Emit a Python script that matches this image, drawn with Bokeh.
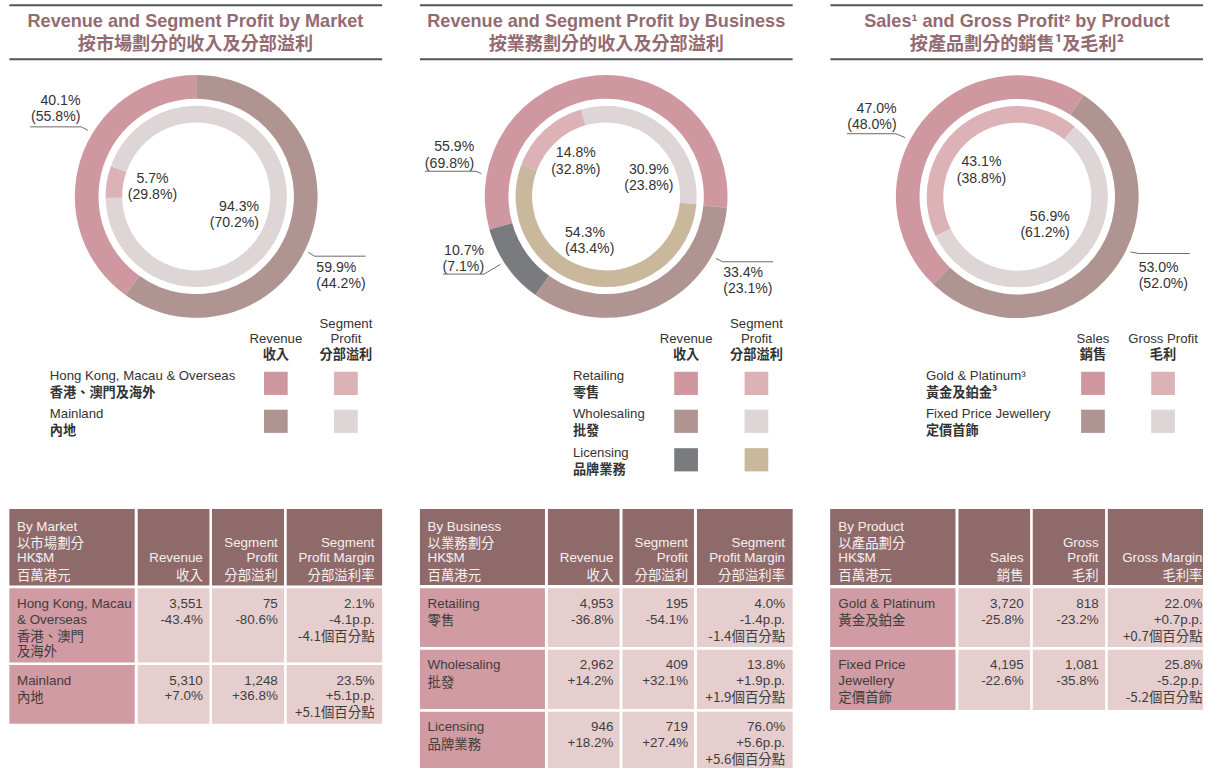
import math
from bokeh.plotting import figure
from bokeh.models import Range1d
from bokeh.core.properties import value
from bokeh.embed import file_html
from bokeh.resources import INLINE

# ---------------- DATA ----------------
market_en = ["Hong Kong, Macau & Overseas", "Mainland"]
market_zh = ["香港、澳門及海外", "內地"]
market_rev_share = [40.1, 59.9]
market_rev_share_prev = [55.8, 44.2]
market_prof_share = [5.7, 94.3]
market_prof_share_prev = [29.8, 70.2]
market_table_labels = [["Hong Kong, Macau", "& Overseas", "香港、澳門", "及海外"], ["Mainland", "內地"]]
market_revenue = [3551, 5310]
market_revenue_chg = [-43.4, 7.0]
market_profit = [75, 1248]
market_profit_chg = [-80.6, 36.8]
market_margin = [2.1, 23.5]
market_margin_chg = [-4.1, 5.1]

business_en = ["Retailing", "Wholesaling", "Licensing"]
business_zh = ["零售", "批發", "品牌業務"]
business_rev_share = [55.9, 33.4, 10.7]
business_rev_share_prev = [69.8, 23.1, 7.1]
business_prof_share = [14.8, 30.9, 54.3]
business_prof_share_prev = [32.8, 23.8, 43.4]
business_table_labels = [["Retailing", "零售"], ["Wholesaling", "批發"], ["Licensing", "品牌業務"]]
business_revenue = [4953, 2962, 946]
business_revenue_chg = [-36.8, 14.2, 18.2]
business_profit = [195, 409, 719]
business_profit_chg = [-54.1, 32.1, 27.4]
business_margin = [4.0, 13.8, 76.0]
business_margin_chg = [-1.4, 1.9, 5.6]

product_en = ["Gold & Platinum³", "Fixed Price Jewellery"]
product_zh = ["黃金及鉑金³", "定價首飾"]
product_sales_share = [47.0, 53.0]
product_sales_share_prev = [48.0, 52.0]
product_gp_share = [43.1, 56.9]
product_gp_share_prev = [38.8, 61.2]
product_table_labels = [["Gold & Platinum", "黃金及鉑金"], ["Fixed Price", "Jewellery", "定價首飾"]]
product_sales = [3720, 4195]
product_sales_chg = [-25.8, -22.6]
product_gp = [818, 1081]
product_gp_chg = [-23.2, -35.8]
product_gm = [22.0, 25.8]
product_gm_chg = [0.7, -5.2]

titles_en = ["Revenue and Segment Profit by Market", "Revenue and Segment Profit by Business",
             "Sales¹ and Gross Profit² by Product"]
titles_zh = ["按市場劃分的收入及分部溢利", "按業務劃分的收入及分部溢利", "按產品劃分的銷售¹及毛利²"]

# ---------------- STYLE ----------------
PINK = "#cf98a1"
MAUVE = "#b09492"
LPINK = "#dcb2b7"
LGRAY = "#ddd5d6"
DGRAY = "#7a7b7f"
TAN = "#c9b89c"
HEAD = "#8f6a6a"
COL1 = "#d09ba3"
CELL = "#e6cecf"
TITLE_C = "#946b70"
TXT = "#333333"

W_REF, H_REF = 1219, 784
S = 0.985

p = figure(width=1203, height=768, x_range=Range1d(0, W_REF), y_range=Range1d(0, H_REF),
           output_backend="svg", toolbar_location=None, min_border=0,
           x_axis_type=None, y_axis_type=None)
p.grid.visible = False
p.outline_line_color = None
p.background_fill_color = "white"
p.border_fill_color = "white"


def Y(y):
    return H_REF - y


def is_cjk(s):
    return any(ord(ch) > 0x2E80 for ch in s)


def txt(x, y, s, size, color=TXT, align="left", bold=False, font=None):
    f = font or ("Noto Sans CJK TC" if is_cjk(s) else "Liberation Sans")
    p.text(x=[x], y=[Y(y)], text=[s], text_font=value(f), text_font_size=f"{size * S:.1f}px",
           text_font_style="bold" if bold else "normal", text_color=color,
           text_align=align, text_baseline="middle")


def donut(cx, cy, shares, colors, start_deg, r_in, r_out):
    a = math.radians(start_deg)
    starts, ends = [], []
    for s in shares:
        starts.append(a)
        a += math.radians(s * 3.6)
        ends.append(a)
    ends[-1] = math.radians(start_deg) + 2 * math.pi
    p.annular_wedge(x=[cx] * len(shares), y=[Y(cy)] * len(shares), inner_radius=r_in, outer_radius=r_out,
                    start_angle=starts, end_angle=ends, fill_color=colors, line_color=None)


def leader(pts):
    p.line(x=[q[0] for q in pts], y=[Y(q[1]) for q in pts], line_color="#444444", line_width=0.8)


def pct_label(x, y1, share, prev, align, gap=16.5):
    txt(x, y1, f"{share:.1f}%", 14.3, align=align)
    txt(x, y1 + gap, f"({prev:.1f}%)", 14.3, align=align)


# ---------------- TITLES ----------------
title_cx = [197.5, 613.8, 1030]
title_lines = [(9, 386.7), (425, 802.7), (841, 1219)]
for i in range(3):
    x0, x1 = title_lines[i]
    p.line(x=[x0, x1], y=[Y(4.8), Y(4.8)], line_color="#555555", line_width=2)
    p.line(x=[x0, x1], y=[Y(60), Y(60)], line_color="#555555", line_width=2)
    txt(title_cx[i], 20.7, titles_en[i], 18.4, color=TITLE_C, align="center", bold=True)
    txt(title_cx[i], 42.3, titles_zh[i], 18.4, color=TITLE_C, align="center", bold=True)

R_OUT = (99, 123)
R_IN = (75, 91.8)

# ---------------- CHART 1 ----------------
c1 = (198.3, 200)
donut(c1[0], c1[1], market_rev_share, [PINK, MAUVE], 90, *R_OUT)
donut(c1[0], c1[1], market_prof_share, [LPINK, LGRAY], 160.5, *R_IN)
pct_label(81, 101.7, market_rev_share[0], market_rev_share_prev[0], "right")
leader([(30, 129), (82, 129), (88.5, 132.5)])
pct_label(154, 181, market_prof_share[0], market_prof_share_prev[0], "center")
pct_label(262, 210, market_prof_share[1], market_prof_share_prev[1], "right")
pct_label(320, 271.7, market_rev_share[1], market_rev_share_prev[1], "left")
leader([(312, 257), (318, 261), (370, 261)])

# ---------------- CHART 2 ----------------
c2 = (613.7, 200)
# outer ring, counter-clockwise order: Retailing, Licensing, Wholesaling
donut(c2[0], c2[1], [business_rev_share[0], business_rev_share[2], business_rev_share[1]],
      [PINK, DGRAY, MAUVE], -5.4, *R_OUT)
# inner ring, counter-clockwise order: Wholesaling, Retailing, Licensing
donut(c2[0], c2[1], [business_prof_share[1], business_prof_share[0], business_prof_share[2]],
      [LGRAY, LPINK, TAN], -5.0, *R_IN)
pct_label(480, 149, business_rev_share[0], business_rev_share_prev[0], "right")
leader([(430, 174.3), (481.7, 174.3), (487.3, 176.7)])
pct_label(490, 255, business_rev_share[2], business_rev_share_prev[2], "right")
leader([(448.3, 279.3), (490, 279.3), (506.7, 269.3)])
pct_label(583, 155, business_prof_share[0], business_prof_share_prev[0], "center")
pct_label(657, 172.3, business_prof_share[1], business_prof_share_prev[1], "center")
pct_label(572, 236, business_prof_share[2], business_prof_share_prev[2], "left")
pct_label(732.3, 276.7, business_rev_share[1], business_rev_share_prev[1], "left")
leader([(725, 263.3), (731.7, 266.7), (782.7, 266.7)])

# ---------------- CHART 3 ----------------
c3 = (1030.3, 200.3)
donut(c3[0], c3[1], product_sales_share, [PINK, MAUVE], 57, *R_OUT)
donut(c3[0], c3[1], product_gp_share, [LPINK, LGRAY], 50.6, *R_IN)
pct_label(908, 110, product_sales_share[0], product_sales_share_prev[0], "right")
leader([(857.7, 136), (907.3, 136), (916.7, 140)])
pct_label(994, 164.3, product_gp_share[0], product_gp_share_prev[0], "center")
pct_label(1083.5, 220, product_gp_share[1], product_gp_share_prev[1], "right")
pct_label(1153.3, 271.7, product_sales_share[1], product_sales_share_prev[1], "left")
leader([(1145, 256.7), (1153.3, 258.3), (1205, 258.3)])

# ---------------- LEGENDS ----------------
LFS = 13.4


def legend(text_x, col_x, col_heads, names_en, names_zh, c_a, c_b, row_y):
    for cx, lines in zip(col_x, col_heads):
        ys = [360.7 - 15.3 * (len(lines) - 1 - k) for k in range(len(lines))]
        for yy, s in zip(ys, lines):
            txt(cx, yy, s, LFS, align="center", bold=is_cjk(s))
    for i, (en, zh) in enumerate(zip(names_en, names_zh)):
        y0 = row_y[i]
        txt(text_x, y0, en, LFS)
        txt(text_x, y0 + 16.3, zh, LFS, bold=True)
        for cx, col in zip(col_x, (c_a[i], c_b[i])):
            p.quad(left=cx - 12, right=cx + 12, top=Y(y0 - 4), bottom=Y(y0 + 19.7), fill_color=col, line_color=None)


legend(50, [279, 350], [["Revenue", "收入"], ["Segment", "Profit", "分部溢利"]],
       market_en, market_zh, [PINK, MAUVE], [LPINK, LGRAY], [383, 421.7])
legend(580, [694.7, 766], [["Revenue", "收入"], ["Segment", "Profit", "分部溢利"]],
       business_en, business_zh, [PINK, MAUVE, DGRAY], [LPINK, LGRAY, TAN], [383, 421.7, 461])
legend(937.7, [1107, 1178], [["Sales", "銷售"], ["Gross Profit", "毛利"]],
       product_en, product_zh, [PINK, MAUVE], [LPINK, LGRAY], [383, 421.7])

# ---------------- TABLES ----------------
TFS = 13.6
HEAD_TXT = "#f6efef"
CELL_TXT = "#3e3e3e"


def table(cols, rows, head_first, head_cols, row_labels, row_values, pad_left=7.7, text_right=None):
    # header
    for ci, (l, r) in enumerate(cols):
        for ri, (t, b) in enumerate(rows):
            col = HEAD if ri == 0 else (COL1 if ci == 0 else CELL)
            p.quad(left=l, right=r, top=Y(t), bottom=Y(b), fill_color=col, line_color=None)
    t0 = rows[0][0]
    for k, s in enumerate(head_first):
        txt(cols[0][0] + pad_left, t0 + 17.7 + 16.1 * k, s, TFS, color=HEAD_TXT)
    for ci, lines in enumerate(head_cols, start=1):
        xr = text_right[ci - 1]
        n = len(lines)
        for k, s in enumerate(lines):
            txt(xr, 585 - 16.1 * (n - 1 - k), s, TFS, color=HEAD_TXT, align="right")
    for ri, (labels, vals) in enumerate(zip(row_labels, row_values), start=1):
        ty = rows[ri][0] + 15.5
        for k, s in enumerate(labels):
            txt(cols[0][0] + pad_left, ty + 16 * k, s, TFS, color=CELL_TXT)
        for ci, lines in enumerate(vals, start=1):
            for k, s in enumerate(lines):
                txt(text_right[ci - 1], ty + 16 * k, s, TFS, color=CELL_TXT, align="right")


def row_vals(rev, rev_c, prof, prof_c, m, m_c):
    return [[f"{rev:,}", f"{rev_c:+.1f}%".replace("+-", "-")],
            [f"{prof:,}", f"{prof_c:+.1f}%"],
            [f"{m:.1f}%", f"{m_c:+.1f}p.p.", f"{m_c:+.1f}個百分點"]]


t1_vals = [row_vals(*z) for z in zip(market_revenue, market_revenue_chg, market_profit, market_profit_chg,
                                     market_margin, market_margin_chg)]
table([(9, 136), (139, 211.7), (214.3, 287.3), (290, 386.7)],
      [(519, 597.3), (600, 675.7), (678.3, 738.3)],
      ["By Market", "以市場劃分", "HK$M", "百萬港元"],
      [["Revenue", "收入"], ["Segment", "Profit", "分部溢利"], ["Segment", "Profit Margin", "分部溢利率"]],
      market_table_labels, t1_vals, text_right=[205, 281, 379])

t2_vals = [row_vals(*z) for z in zip(business_revenue, business_revenue_chg, business_profit,
                                     business_profit_chg, business_margin, business_margin_chg)]
table([(425, 551.7), (554.7, 627.3), (630.3, 702.7), (705.7, 802.7)],
      [(519, 596.7), (600, 660), (662.7, 723.3), (726, 787)],
      ["By Business", "以業務劃分", "HK$M", "百萬港元"],
      [["Revenue", "收入"], ["Segment", "Profit", "分部溢利"], ["Segment", "Profit Margin", "分部溢利率"]],
      business_table_labels, t2_vals, text_right=[621, 696.7, 795])

t3_vals = [row_vals(*z) for z in zip(product_sales, product_sales_chg, product_gp, product_gp_chg,
                                     product_gm, product_gm_chg)]
table([(840.7, 967.7), (970.7, 1043.3), (1046, 1119.3), (1122, 1230)],
      [(519, 596.7), (600, 660), (662.7, 724.3)],
      ["By Product", "以產品劃分", "HK$M", "百萬港元"],
      [["Sales", "銷售"], ["Gross", "Profit", "毛利"], ["Gross Margin", "毛利率"]],
      product_table_labels, t3_vals, pad_left=8.3, text_right=[1036.7, 1112.7, 1218])

open("out.html", "w").write(file_html(p, INLINE))
